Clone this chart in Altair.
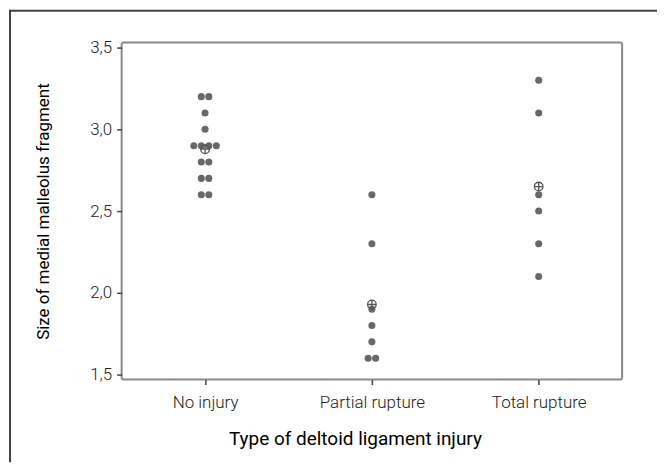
import altair as alt
import pandas as pd

categories = ["No injury", "Partial rupture", "Total rupture"]
no_injury = [3.2, 3.2, 3.1, 3.0, 2.9, 2.9, 2.9, 2.9, 2.8, 2.8, 2.7, 2.7, 2.6, 2.6]
partial_rupture = [2.6, 2.3, 1.9, 1.8, 1.7, 1.6, 1.6]
total_rupture = [3.3, 3.1, 2.6, 2.5, 2.3, 2.1]
y_ticks = [1.5, 2.0, 2.5, 3.0, 3.5]

rows = []
for cat, vals in zip(categories, [no_injury, partial_rupture, total_rupture]):
    for v in vals:
        rows.append({"cat": cat, "value": v})
df = pd.DataFrame(rows)

W, H = 502, 338
DODGE = 0.045
cat_list = "[" + ",".join("'" + c + "'" for c in categories) + "]"
idx_expr = f"indexof({cat_list}, datum.cat)"

x_scale = alt.Scale(domain=[-0.5, len(categories) - 0.5], nice=False, zero=False)
y_scale = alt.Scale(domain=[1.5 - 5 / 164, 3.5 + 5 / 164], nice=False, zero=False)

LABEL_FONT = "Roboto"
x_axis = alt.Axis(
    values=list(range(len(categories))),
    labelExpr=f"{cat_list}[round(datum.value)]",
    title="Type of deltoid ligament injury",
    domain=False, grid=False,
    tickColor="#444", tickSize=5, tickWidth=1.5,
    labelFont=LABEL_FONT, labelFontSize=17, labelFontWeight=300, labelColor="#222",
    labelPadding=10,
    titleFont=LABEL_FONT, titleFontSize=19, titleFontWeight="normal",
    titleColor="#000", titlePadding=19, titleX=234,
)
y_axis = alt.Axis(
    values=y_ticks,
    labelExpr="replace(format(datum.value, '.1f'), '.', ',')",
    title="Size of medial malleolus fragment",
    domain=False, grid=False,
    tickColor="#444", tickSize=5, tickWidth=1.5,
    labelFont=LABEL_FONT, labelFontSize=17, labelFontWeight=300, labelColor="#222",
    labelPadding=5,
    titleFont=LABEL_FONT, titleFontSize=17, titleFontWeight="normal",
    titleColor="#000", titlePadding=37,
)

dots = (
    alt.Chart(df)
    .transform_window(
        rank="row_number()", groupby=["cat", "value"]
    )
    .transform_joinaggregate(n="count()", groupby=["cat", "value"])
    .transform_calculate(
        xpos=f"{idx_expr} + (datum.rank - (datum.n + 1) / 2) * {DODGE}"
    )
    .mark_circle(size=50, color="#686868", opacity=1)
    .encode(
        x=alt.X("xpos:Q", scale=x_scale, axis=x_axis),
        y=alt.Y("value:Q", scale=y_scale, axis=y_axis),
    )
)

mean_shape = "M-1,0A1,1 0 1,1 1,0A1,1 0 1,1 -1,0M-1,0L1,0M0,-1L0,1"
means = (
    alt.Chart(df)
    .transform_aggregate(mean_value="mean(value)", groupby=["cat"])
    .transform_calculate(xpos=idx_expr)
    .mark_point(shape=mean_shape, size=75, filled=False, stroke="#555", strokeWidth=1.3, opacity=1)
    .encode(
        x=alt.X("xpos:Q", scale=x_scale),
        y=alt.Y("mean_value:Q", scale=y_scale),
    )
)

one = pd.DataFrame({"a": [0]})
top_rule = alt.Chart(one).mark_rule(color="#444", strokeWidth=2).encode(
    x=alt.value(-113), x2=alt.value(537), y=alt.value(-32)
)
left_rule = alt.Chart(one).mark_rule(color="#444", strokeWidth=2).encode(
    x=alt.value(-112), y=alt.value(-33), y2=alt.value(421)
)

chart = (
    alt.layer(dots, means, top_rule, left_rule)
    .properties(width=W, height=H, padding=0, background="white")
    .configure_view(stroke="#8a8a8a", strokeWidth=2, cornerRadius=2)
)

chart.save("out.html", embed_options={"renderer": "svg", "actions": False})
